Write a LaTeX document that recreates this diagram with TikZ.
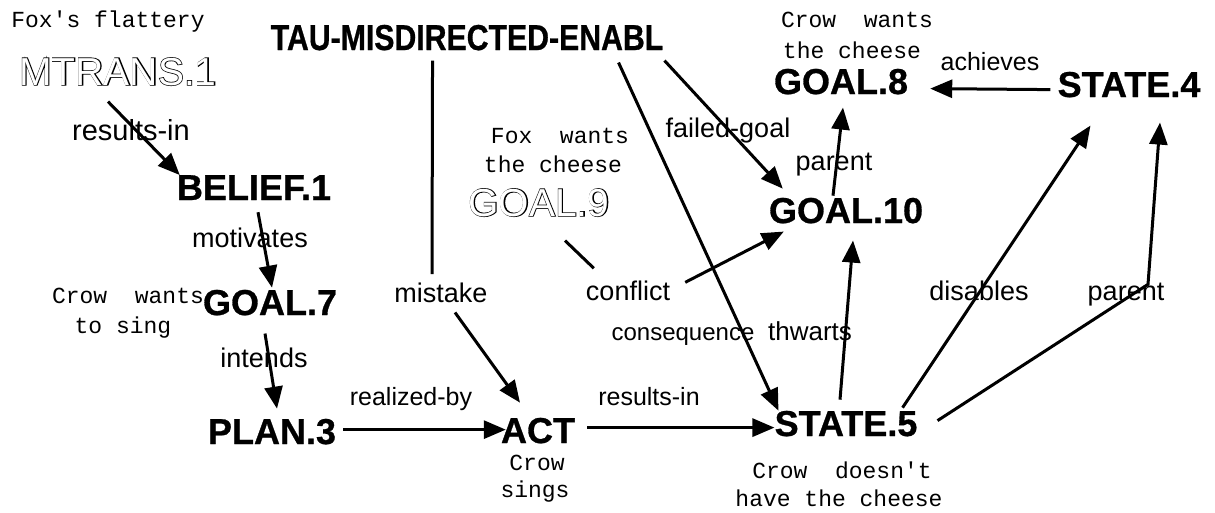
\documentclass[tikz,border=0pt]{standalone}
\usepackage{fontspec}
\setmainfont{Liberation Sans}
\newfontfamily\monof{Liberation Mono}
\newfontfamily\outbold[FakeBold=3.5]{Liberation Sans}
\newfontfamily\bigf[FakeBold=0.8]{Liberation Sans Bold}
\usepackage{graphicx}
\usetikzlibrary{arrows.meta,calc}
\begin{document}
\begin{tikzpicture}[x=1pt,y=-1pt,
  big/.style={font=\bigf\fontsize{36}{36}\selectfont, inner sep=0pt, anchor=base},
  lab/.style={font=\fontsize{27}{27}\selectfont, inner sep=0pt, anchor=base},
  cmt/.style={font=\monof\fontsize{23}{23}\selectfont, inner sep=0pt, anchor=base},
  outlb/.style={font=\outbold\fontsize{39}{39}\selectfont, inner sep=0pt, anchor=base, text=black},
  outlw/.style={font=\fontsize{39}{39}\selectfont, inner sep=0pt, anchor=base, text=white},
  ln/.style={line width=3pt},
  arr/.style={line width=3pt, -{Triangle[length=22pt,width=18pt]}}]
\useasboundingbox (0,0) rectangle (1215,512);
% comments
\node[cmt] (cfox) at (108,27) {Fox{\char"0027}s flattery};
\node[cmt] (c8a) at (857,27) {Crow\ \ wants};
\node[cmt] (c8b) at (852,58) {the cheese};
\node[cmt] (c9a) at (560,143) {Fox\ \ wants};
\node[cmt] (c9b) at (553,172) {the cheese};
\node[cmt] (c7a) at (128,303) {Crow\ \ wants};
\node[cmt] (c7b) at (123,333) {to sing};
\node[cmt] (caa) at (537,470) {Crow};
\node[cmt] (cab) at (535,497) {sings};
\node[cmt] (c5a) at (842,478) {Crow\ \ doesn{\char"0027}t};
\node[cmt] (c5b) at (839,506) {have the cheese};
% main nodes
\node[outlb] (mtrans) at (118,85) {MTRANS.1};
\node[outlw] (mtransw) at (118,85) {MTRANS.1};
\node[outlb] (goal9) at (539,216) {GOAL.9};
\node[outlw] (goal9w) at (539,216) {GOAL.9};
\node[big] (tau) at (467,50) {\scalebox{0.84}[1]{TAU-MISDIRECTED-ENABL}};
\node[big] (belief) at (254,200) {BELIEF.1};
\node[big] (goal7) at (270,315) {GOAL.7};
\node[big] (plan3) at (272,444) {PLAN.3};
\node[big] (act) at (538,443) {ACT};
\node[big] (state5) at (846,436) {STATE.5};
\node[big] (goal8) at (841,94) {GOAL.8};
\node[big] (state4) at (1129,97) {STATE.4};
\node[big] (goal10) at (846,223) {GOAL.10};
% labels
\node[lab,font=\fontsize{29}{29}\selectfont] (l1) at (131,140) {results-in};
\node[lab] (l2) at (250,247) {motivates};
\node[lab] (l3) at (264,367) {intends};
\node[lab,font=\fontsize{25}{25}\selectfont] (l4) at (411,405) {realized-by};
\node[lab,font=\fontsize{25}{25}\selectfont] (l5) at (649,405) {results-in};
\node[lab] (mistake) at (441,302) {mistake};
\node[lab] (conflict) at (628,300) {conflict};
\node[lab,font=\fontsize{24}{24}\selectfont] (l6) at (683,340) {consequence};
\node[lab,font=\fontsize{26}{26}\selectfont] (l7) at (810,340) {thwarts};
\node[lab] (l8) at (979,300) {disables};
\node[lab] (parent2) at (1126,300) {parent};
\node[lab] (l9) at (728,137) {failed-goal};
\node[lab] (l10) at (834,170) {parent};
\node[lab,font=\fontsize{25}{25}\selectfont] (l11) at (990,70) {achieves};
% connectors
\draw[arr] ($(mtrans.south)+(-10,16)$) -- ($(belief.north west)+(3,0)$);
\draw[arr] ($(belief.south)+(4,12)$) -- ($(goal7.north)+(2,-2)$);
\draw[arr] ($(goal7.south)+(-5,18)$) -- ($(plan3.north)+(5,-10)$);
\draw[arr] ($(plan3.east)+(7,-2)$) -- ($(plan3.east -| act.west)+(5,-2)$);
\draw[arr] ($(act.east)+(12,-3)$) -- ($(act.east -| state5.west)+(0,-3)$);
\draw[ln] ($(tau.south west)+(162,10)$) -- ($(mistake.north)+(-9,-8)$);
\draw[arr] ($(mistake.south)+(14,10)$) -- ($(act.north)+(-18,-15)$);
\draw[arr] ($(tau.south west)+(348,12)$) -- ($(state5.north west)+(4,0)$);
\draw[arr] ($(tau.south east)+(1,10)$) -- ($(goal10.north west)+(14,-9)$);
\draw[ln] ($(goal9.south)+(26,24)$) -- ($(conflict.north west)+(8,-12)$);
\draw[arr] ($(conflict.east)+(15,-8)$) -- ($(goal10.south west)+(15,8)$);
\draw[arr] ($(goal10.north)+(-13,-2)$) -- ($(goal8.south)+(2,13)$);
\draw[arr] ($(state4.west)+(-7,5)$) -- ($(goal8.east)+(22,7)$);
\draw[arr] ($(state5.north)+(-6,-11)$) -- ($(goal10.south)+(7,17)$);
\draw[arr] ($(state5.north east)+(-15,-3)$) -- ($(state4.south west)+(33,28)$);
\draw[arr] ($(state5.east)+(20,-3)$) -- ($(parent2.north)+(22,2)$) -- ($(state4.south)+(31,25)$);
\end{tikzpicture}
\end{document}
